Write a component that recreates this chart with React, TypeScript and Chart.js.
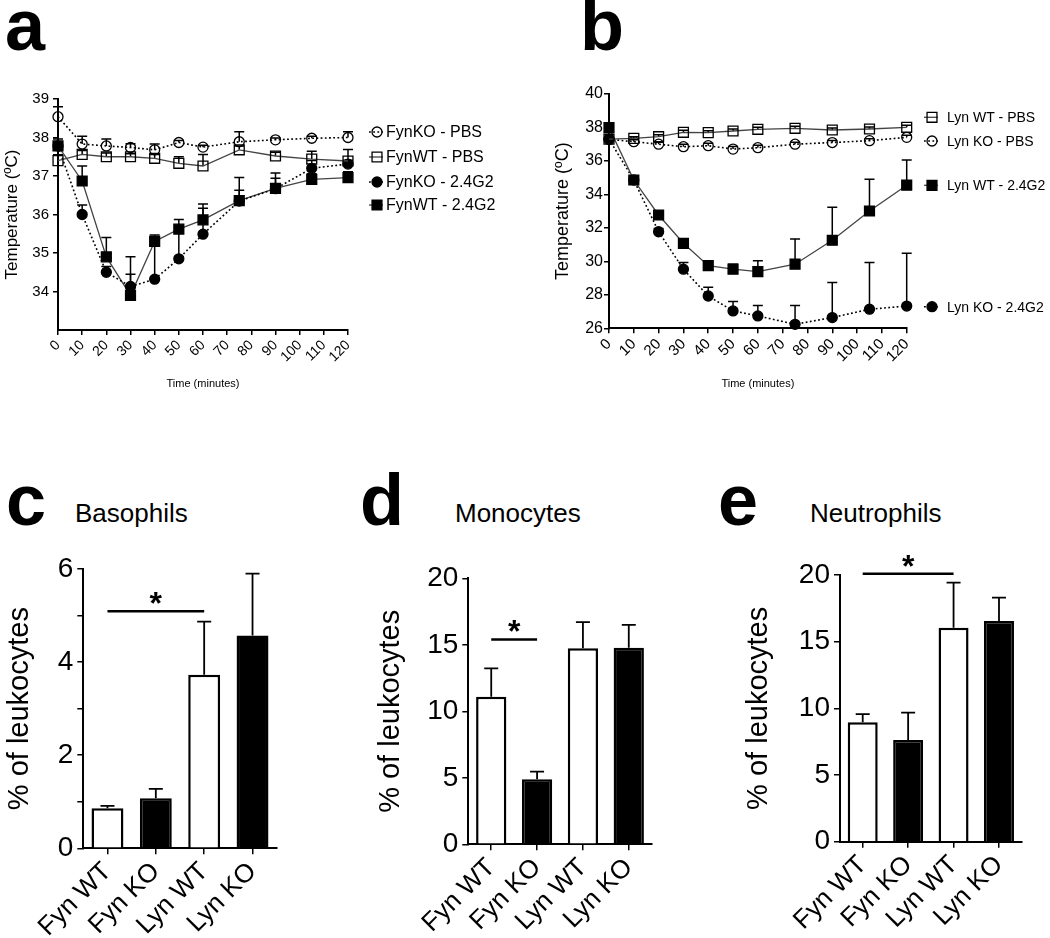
import React, { useEffect, useRef } from 'react';
import { Chart, registerables } from 'chart.js';

Chart.register(...registerables);

const FONT = "'Liberation Sans', Arial, Helvetica, sans-serif";
Chart.defaults.font.family = FONT;
Chart.defaults.color = '#000';

// ---------------- data ----------------
const timePoints = [0, 10, 20, 30, 40, 50, 60, 75, 90, 105, 120];
const timeTicks = [0, 10, 20, 30, 40, 50, 60, 70, 80, 90, 100, 110, 120];

// panel a (Fyn)
const fynTempTicks = [34, 35, 36, 37, 38, 39];
const fynKoPbs = [38.54, 37.83, 37.78, 37.74, 37.68, 37.87, 37.75, 37.89, 37.94, 37.98, 38.0];
const fynKoPbsErr = [0.26, 0.2, 0.18, 0.1, 0.15, 0.05, 0.05, 0.26, 0.05, 0.05, 0.15];
const fynWtPbs = [37.4, 37.56, 37.5, 37.5, 37.46, 37.33, 37.26, 37.68, 37.52, 37.44, 37.39];
const fynWtPbsErr = [0.15, 0.1, 0.1, 0.08, 0.1, 0.17, 0.3, 0.1, 0.1, 0.2, 0.3];
const fynKo24g2 = [37.78, 36.0, 34.5, 34.13, 34.32, 34.85, 35.49, 36.35, 36.67, 37.2, 37.31];
const fynKo24g2Err = [0.1, 0.25, 0.15, 0.32, 0.89, 0.75, 0.67, 0.28, 0.27, 0.2, 0.1];
const fynWt24g2 = [37.78, 36.87, 34.9, 33.9, 35.3, 35.62, 35.86, 36.36, 36.68, 36.91, 36.96];
const fynWt24g2Err = [0.18, 0.39, 0.5, 1.0, 0.17, 0.25, 0.41, 0.6, 0.4, 0.15, 0.15];

// panel b (Lyn)
const lynTempTicks = [26, 28, 30, 32, 34, 36, 38, 40];
const lynWtPbs = [37.3, 37.35, 37.45, 37.71, 37.69, 37.79, 37.89, 37.95, 37.85, 37.91, 38.01];
const lynWtPbsErr = [0.1, 0.1, 0.12, 0.12, 0.12, 0.12, 0.12, 0.12, 0.12, 0.12, 0.12];
const lynKoPbs = [37.29, 37.15, 37.0, 36.85, 36.91, 36.71, 36.79, 37.0, 37.1, 37.21, 37.41];
const lynKoPbsErr = [0.1, 0.12, 0.12, 0.15, 0.15, 0.15, 0.15, 0.12, 0.12, 0.12, 0.12];
const lynWt24g2 = [37.99, 34.86, 32.77, 31.08, 29.74, 29.53, 29.39, 29.83, 31.26, 33.01, 34.55];
const lynWt24g2Err = [0.1, 0.2, 0.2, 0.2, 0.2, 0.3, 0.65, 1.5, 1.97, 1.9, 1.5];
const lynKo24g2 = [37.3, 34.86, 31.77, 29.53, 27.93, 27.04, 26.74, 26.24, 26.64, 27.14, 27.33];
const lynKo24g2Err = [0.7, 0.2, 0.2, 0.4, 0.52, 0.56, 0.62, 1.12, 2.09, 2.79, 3.15];

// panels c, d, e
const groups = ['Fyn WT', 'Fyn KO', 'Lyn WT', 'Lyn KO'];
const basophils = [0.86, 1.075, 3.73, 4.57];
const basophilsErr = [0.05, 0.2, 1.14, 1.33];
const basoTicks = [0, 2, 4, 6];
const basoMinorTicks = [1, 3, 5];
const monocytes = [11.1, 4.89, 14.74, 14.78];
const monocytesErr = [2.13, 0.57, 1.96, 1.72];
const neutrophils = [8.96, 7.63, 16.05, 16.55];
const neutrophilsErr = [0.6, 2.05, 3.38, 1.75];
const pctTicks = [0, 5, 10, 15, 20];
const pctMinorTicks = [2.5, 7.5, 12.5, 17.5];
// significance brackets: [from group, to group, level]
const basoSig = [0, 2, 5.09];
const monoSig = [0, 1, 15.4];
const neutroSig = [0, 2, 20.1];

// ---------------- helpers ----------------
function drawMarker(ctx: CanvasRenderingContext2D, shape: string, x: number, y: number, r: number, filled: boolean) {
  ctx.beginPath();
  if (shape === 'rect') {
    const s = Math.SQRT1_2 * r;
    ctx.rect(x - s, y - s, 2 * s, 2 * s);
  } else {
    ctx.arc(x, y, r, 0, Math.PI * 2);
  }
  if (filled) {
    ctx.fillStyle = '#000';
    ctx.fill();
  }
  ctx.setLineDash([]);
  ctx.lineWidth = 1.3;
  ctx.strokeStyle = '#000';
  ctx.stroke();
}

function errPlugin(errs: number[][], capHalf: number, lw: number, after: boolean) {
  const draw = (chart: any) => {
    const ctx = chart.ctx;
    ctx.save();
    ctx.strokeStyle = '#000';
    ctx.lineWidth = lw;
    ctx.setLineDash([]);
    chart.data.datasets.forEach((ds: any, di: number) => {
      const e = errs[di];
      if (!e) return;
      const meta = chart.getDatasetMeta(di);
      const yScale = chart.scales[meta.yAxisID];
      meta.data.forEach((el: any, i: number) => {
        const raw = ds.data[i];
        const v = typeof raw === 'number' ? raw : raw.y;
        const y0 = yScale.getPixelForValue(v);
        const y1 = yScale.getPixelForValue(v + e[i]);
        const x = el.x;
        ctx.beginPath();
        ctx.moveTo(x, y0);
        ctx.lineTo(x, y1);
        ctx.moveTo(x - capHalf, y1);
        ctx.lineTo(x + capHalf, y1);
        ctx.stroke();
      });
    });
    ctx.restore();
  };
  return after ? { id: 'errbars', afterDatasetsDraw: draw } : { id: 'errbars', beforeDatasetsDraw: draw };
}

function legendPlugin(items: { ds: number; y: number }[], markerX: number, textX: number, fontSize: number) {
  return {
    id: 'sideLegend',
    afterDraw(chart: any) {
      const ctx = chart.ctx;
      ctx.save();
      items.forEach((it) => {
        const ds = chart.data.datasets[it.ds];
        ctx.strokeStyle = ds.borderColor;
        ctx.lineWidth = ds.borderWidth;
        ctx.setLineDash(ds.borderDash || []);
        ctx.beginPath();
        ctx.moveTo(markerX - 8, it.y);
        ctx.lineTo(markerX + 6, it.y);
        ctx.stroke();
        drawMarker(ctx, ds.pointStyle, markerX, it.y, ds.pointRadius, ds.pointBackgroundColor === '#000');
        ctx.fillStyle = '#000';
        ctx.font = `${fontSize}px ${FONT}`;
        ctx.textAlign = 'left';
        ctx.textBaseline = 'middle';
        ctx.fillText(ds.label, textX, it.y + 1);
      });
      ctx.restore();
    },
  };
}

function sigPlugin(sig: number[]) {
  return {
    id: 'sig',
    afterDatasetsDraw(chart: any) {
      const ctx = chart.ctx;
      const xs = chart.scales.x;
      const ys = chart.scales.y;
      const x0 = xs.getPixelForValue(sig[0]);
      const x1 = xs.getPixelForValue(sig[1]);
      const y = ys.getPixelForValue(sig[2]);
      ctx.save();
      ctx.strokeStyle = '#000';
      ctx.lineWidth = 2.5;
      ctx.beginPath();
      ctx.moveTo(x0, y);
      ctx.lineTo(x1, y);
      ctx.stroke();
      ctx.fillStyle = '#000';
      ctx.font = `bold 32px ${FONT}`;
      ctx.textAlign = 'center';
      ctx.textBaseline = 'alphabetic';
      ctx.fillText('*', (x0 + x1) / 2, y + 3);
      ctx.restore();
    },
  };
}

function lineDataset(label: string, values: number[], shape: string, filled: boolean, dotted: boolean) {
  return {
    label,
    data: timePoints.map((t, i) => ({ x: t, y: values[i] })),
    borderColor: dotted ? '#000' : '#444',
    borderWidth: dotted ? 1.6 : 1.3,
    borderDash: dotted ? [1.8, 2.4] : [],
    pointStyle: shape,
    pointRadius: shape === 'rect' ? 7 : 5,
    pointBorderWidth: 1.3,
    pointBorderColor: '#000',
    pointBackgroundColor: filled ? '#000' : 'rgba(0,0,0,0)',
    tension: 0,
    clip: false,
  };
}

function tempConfig(p: any) {
  return {
    type: 'line',
    data: { datasets: p.datasets },
    options: {
      responsive: false,
      animation: false,
      events: [],
      layout: { padding: p.padding },
      plugins: { legend: { display: false }, tooltip: { enabled: false } },
      scales: {
        x: {
          type: 'linear',
          min: 0,
          max: 120,
          afterBuildTicks: (s: any) => {
            s.ticks = timeTicks.map((v) => ({ value: v }));
          },
          ticks: { font: { size: p.xTickSize }, color: '#000', minRotation: 45, maxRotation: 45, padding: 2, autoSkip: false },
          grid: { drawOnChartArea: false, drawTicks: true, tickLength: 5, color: '#000', lineWidth: 1.5 },
          border: { display: true, color: '#000', width: 2 },
          title: { display: true, text: 'Time (minutes)', font: { size: 11 }, color: '#000', padding: { top: 0, bottom: 9.4 } },
          afterFit: (s: any) => {
            s.height = p.xHeight;
            s.paddingLeft = 0;
            s.paddingRight = 0;
          },
        },
        y: {
          type: 'linear',
          min: p.yMin,
          max: p.yMax,
          afterBuildTicks: (s: any) => {
            s.ticks = p.yTicks.map((v: number) => ({ value: v }));
          },
          ticks: { font: { size: p.yTickSize }, color: '#000', padding: p.yTickPad },
          grid: { drawOnChartArea: false, drawTicks: true, tickLength: 5, color: '#000', lineWidth: 1.5 },
          border: { display: true, color: '#000', width: 2 },
          title: { display: true, text: 'Temperature (ºC)', font: { size: p.yTitleSize }, color: '#000', padding: { top: p.yTitlePad, bottom: 0 } },
          afterFit: (s: any) => {
            s.width = p.yWidth;
            s.paddingTop = 0;
            s.paddingBottom = 0;
          },
        },
      },
    },
    plugins: [errPlugin(p.errs, 5, 1.5, false), legendPlugin(p.legend, p.markerX, p.textX, p.legendSize)],
  };
}

function makeA() {
  return tempConfig({
    datasets: [
      lineDataset('FynKO - PBS', fynKoPbs, 'circle', false, true),
      lineDataset('FynWT - PBS', fynWtPbs, 'rect', false, false),
      lineDataset('FynKO - 2.4G2', fynKo24g2, 'circle', true, true),
      lineDataset('FynWT - 2.4G2', fynWt24g2, 'rect', true, false),
    ],
    errs: [fynKoPbsErr, fynWtPbsErr, fynKo24g2Err, fynWt24g2Err],
    padding: { left: 0, right: 212, top: 19, bottom: 0 },
    xHeight: 70,
    yWidth: 58,
    yMin: 33,
    yMax: 39,
    yTicks: fynTempTicks,
    xTickSize: 14,
    yTickSize: 15,
    yTickPad: 4,
    yTitleSize: 17,
    yTitlePad: 2,
    legend: [
      { ds: 0, y: 52 },
      { ds: 1, y: 77 },
      { ds: 2, y: 102 },
      { ds: 3, y: 125 },
    ],
    markerX: 377,
    textX: 386,
    legendSize: 16,
  });
}

function makeB() {
  return tempConfig({
    datasets: [
      lineDataset('Lyn WT - PBS', lynWtPbs, 'rect', false, false),
      lineDataset('Lyn KO - PBS', lynKoPbs, 'circle', false, true),
      lineDataset('Lyn WT - 2.4G2', lynWt24g2, 'rect', true, false),
      lineDataset('Lyn KO - 2.4G2', lynKo24g2, 'circle', true, true),
    ],
    errs: [lynWtPbsErr, lynKoPbsErr, lynWt24g2Err, lynKo24g2Err],
    padding: { left: 0, right: 143.3, top: 19, bottom: 0 },
    xHeight: 71.7,
    yWidth: 69,
    yMin: 26,
    yMax: 40,
    yTicks: lynTempTicks,
    xTickSize: 15,
    yTickSize: 16,
    yTickPad: 1,
    yTitleSize: 18,
    yTitlePad: 12,
    legend: [
      { ds: 0, y: 42.3 },
      { ds: 1, y: 66 },
      { ds: 2, y: 110.3 },
      { ds: 3, y: 231.7 },
    ],
    markerX: 392,
    textX: 407,
    legendSize: 14,
  });
}

function barConfig(p: any) {
  return {
    type: 'bar',
    data: {
      labels: groups,
      datasets: [
        {
          data: p.values,
          backgroundColor: ['#fff', '#000', '#fff', '#000'],
          borderColor: '#000',
          borderWidth: 2.5,
          barPercentage: 0.66,
          categoryPercentage: 1,
        },
      ],
    },
    options: {
      responsive: false,
      animation: false,
      events: [],
      layout: { padding: p.padding },
      plugins: { legend: { display: false }, tooltip: { enabled: false } },
      scales: {
        x: {
          ticks: { font: { size: 26 }, color: '#000', minRotation: 45, maxRotation: 45, padding: 2, autoSkip: false },
          grid: { offset: false, drawOnChartArea: false, drawTicks: true, tickLength: 6, color: '#000', lineWidth: 1.5 },
          border: { display: true, color: '#000', width: 2 },
          afterFit: (s: any) => {
            s.height = p.xHeight;
            s.paddingLeft = 0;
            s.paddingRight = 0;
          },
        },
        y: {
          type: 'linear',
          min: 0,
          max: p.yMax,
          afterBuildTicks: (s: any) => {
            s.ticks = [...p.major, ...p.minor].sort((a: number, b: number) => a - b).map((v: number) => ({ value: v }));
          },
          ticks: {
            font: { size: 28 },
            color: '#000',
            padding: 4,
            callback: (v: number) => (p.major.includes(v) ? String(v) : ''),
          },
          grid: { drawOnChartArea: false, drawTicks: true, tickLength: 6, color: '#000', lineWidth: 1.5 },
          border: { display: true, color: '#000', width: 2 },
          title: { display: true, text: '% of leukocytes', font: { size: 29 }, color: '#000', padding: { top: p.yTitlePad, bottom: 0 } },
          afterFit: (s: any) => {
            s.width = p.yWidth;
            s.paddingTop = 0;
            s.paddingBottom = 0;
          },
        },
      },
    },
    plugins: [errPlugin([p.errs], 7, 1.8, true), sigPlugin(p.sig)],
  };
}

const makeC = () =>
  barConfig({ values: basophils, errs: basophilsErr, sig: basoSig, yMax: 6, major: basoTicks, minor: basoMinorTicks, padding: { left: 0, right: 63.3, top: 29, bottom: 0 }, yWidth: 83.3, xHeight: 89.7, yTitlePad: 2.6 });
const makeD = () =>
  barConfig({ values: monocytes, errs: monocytesErr, sig: monoSig, yMax: 20, major: pctTicks, minor: pctMinorTicks, padding: { left: 0, right: 38.3, top: 38.3, bottom: 0 }, yWidth: 118.3, xHeight: 93.7, yTitlePad: 23.6 });
const makeE = () =>
  barConfig({ values: neutrophils, errs: neutrophilsErr, sig: neutroSig, yMax: 20, major: pctTicks, minor: pctMinorTicks, padding: { left: 0, right: 28.3, top: 35, bottom: 0 }, yWidth: 140, xHeight: 96.3, yTitlePad: 41.6 });

function ChartBox({ left, top, width, height, make }: { left: number; top: number; width: number; height: number; make: () => any }) {
  const ref = useRef<HTMLCanvasElement>(null);
  useEffect(() => {
    const chart = new Chart(ref.current as HTMLCanvasElement, make());
    return () => chart.destroy();
  }, []);
  return <canvas ref={ref} width={width} height={height} style={{ position: 'absolute', left, top, width, height }} />;
}

function Label({ text, left, top, size, bold }: { text: string; left: number; top: number; size: number; bold?: boolean }) {
  return (
    <div style={{ position: 'absolute', left, top, fontSize: size, lineHeight: 1, fontWeight: bold ? 'bold' : 'normal', fontFamily: FONT, color: '#000', whiteSpace: 'nowrap' }}>
      {text}
    </div>
  );
}

export default function App() {
  return (
    <div style={{ position: 'absolute', left: 0, top: 0, width: 1050, height: 938, background: '#fff', overflow: 'hidden' }}>
      <ChartBox left={0} top={80} width={560} height={320} make={makeA} />
      <ChartBox left={540} top={75} width={510} height={325} make={makeB} />
      <ChartBox left={0} top={540} width={340} height={398} make={makeC} />
      <ChartBox left={350} top={540} width={340} height={398} make={makeD} />
      <ChartBox left={700} top={540} width={350} height={398} make={makeE} />
      <Label text="a" left={5} top={-11} size={72} bold />
      <Label text="b" left={580} top={-11} size={72} bold />
      <Label text="c" left={6} top={464} size={72} bold />
      <Label text="d" left={360} top={464} size={72} bold />
      <Label text="e" left={718} top={464} size={72} bold />
      <Label text="Basophils" left={75} top={500} size={26} />
      <Label text="Monocytes" left={455} top={500} size={26} />
      <Label text="Neutrophils" left={810} top={500} size={26} />
    </div>
  );
}
